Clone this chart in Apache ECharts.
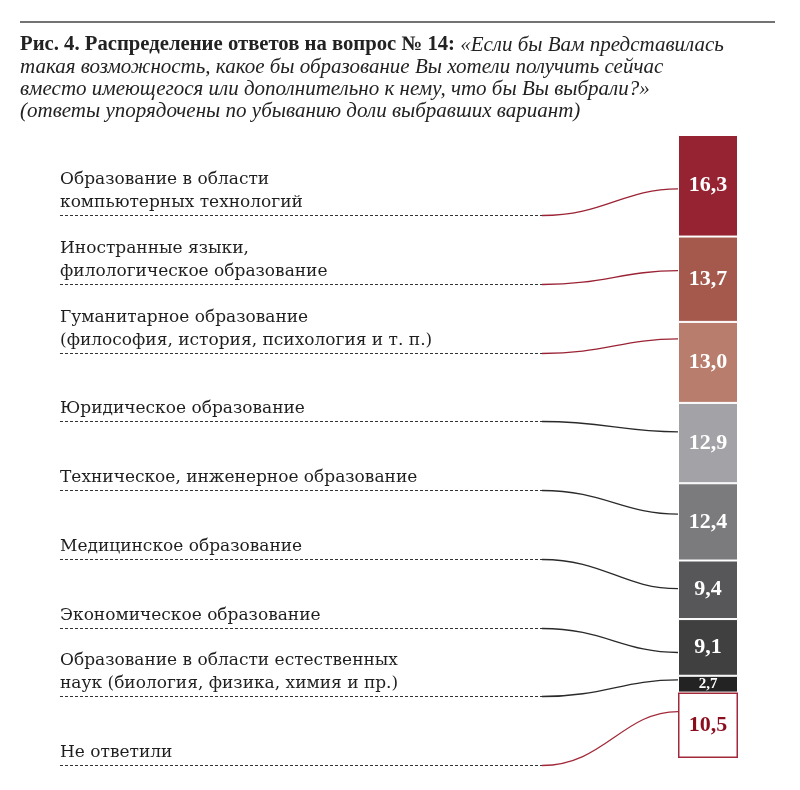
<!DOCTYPE html>
<html><head><meta charset="utf-8">
<script src="https://cdn.jsdelivr.net/npm/echarts@6.0.0/dist/echarts.min.js"></script>
<style>html,body{margin:0;padding:0;background:#fff}#c{width:800px;height:790px}</style>
</head><body><div id="c"></div>
<script>
// ---- data ----
const categories = [
  'Образование в области\nкомпьютерных технологий',
  'Иностранные языки,\nфилологическое образование',
  'Гуманитарное образование\n(философия, история, психология и т. п.)',
  'Юридическое образование',
  'Техническое, инженерное образование',
  'Медицинское образование',
  'Экономическое образование',
  'Образование в области естественных\nнаук (биология, физика, химия и пр.)',
  'Не ответили'
];
const values = [16.3, 13.7, 13.0, 12.9, 12.4, 9.4, 9.1, 2.7, 10.5];
const titleBold = 'Рис. 4. Распределение ответов на вопрос № 14: ';
const titleItalic = [
  '«Если бы Вам представилась',
  'такая возможность, какое бы образование Вы хотели получить сейчас',
  'вместо имеющегося или дополнительно к нему, что бы Вы выбрали?»',
  '(ответы упорядочены по убыванию доли выбравших вариант)'
];

// ---- styles ----
const colors = ['#962332', '#a5594d', '#b87d6c', '#a3a3a7', '#7b7b7e', '#57575a', '#404040', '#232323', '#ffffff'];
const connectorColors = ['#9b2335', '#9b2335', '#9b2335', '#2a2a2a', '#2a2a2a', '#2a2a2a', '#2a2a2a', '#2a2a2a', '#a3293a'];
const anchorFractions = [0.53, 0.4, 0.21, 0.36, 0.4, 0.48, 0.59, 0.24, 0.29];

const chart = echarts.init(document.getElementById('c'), null, {renderer: 'canvas'});

const series = values.map((v, i) => {
  const last = i === values.length - 1;
  return {
    type: 'bar',
    stack: 'total',
    barWidth: 60,
    data: [v],
    itemStyle: last
      ? {color: '#ffffff', borderColor: '#a3293a', borderWidth: 1.5}
      : {color: colors[i], borderColor: '#ffffff', borderWidth: 1},
    label: {
      show: true,
      position: 'inside',
      formatter: () => v.toFixed(1).replace('.', ','),
      fontFamily: '"Liberation Serif", serif',
      fontWeight: 'bold',
      fontSize: v < 5 ? 15 : 22,
      color: last ? '#8b0e1e' : '#ffffff'
    },
    emphasis: {disabled: true},
    silent: true
  };
});

chart.setOption({
  animation: false,
  grid: {left: 678, right: 62, top: 135, bottom: 32},
  xAxis: {type: 'category', data: ['all'], show: false},
  yAxis: {type: 'value', inverse: true, min: 0, max: 100, show: false},
  series: series
});

// ---- annotations ----
const graphics = [];
graphics.push({
  type: 'line', shape: {x1: 20, y1: 22, x2: 775, y2: 22},
  style: {stroke: '#444', lineWidth: 1.5}
});
const titleText = '{b|' + titleBold + '}{i|' + titleItalic[0] + '}\n' +
  titleItalic.slice(1).map(t => '{i|' + t + '}').join('\n');
graphics.push({
  type: 'text', x: 20, y: 34,
  style: {
    text: titleText,
    fill: '#222',
    rich: {
      b: {fontFamily: '"Liberation Serif", serif', fontWeight: 'bold', fontSize: 20.7, lineHeight: 22, fill: '#222'},
      i: {fontFamily: '"Liberation Serif", serif', fontStyle: 'italic', fontSize: 21, lineHeight: 22, fill: '#222'}
    }
  }
});

const lineStartX = 60, lineEndX = 542, barLeft = 678;
let cum = 0;
categories.forEach((cat, i) => {
  const lineY = Math.round(215 + i * 68.75) + 0.5;
  const endVal = cum + anchorFractions[i] * values[i];
  cum += values[i];
  const endY = chart.convertToPixel({yAxisIndex: 0}, endVal);
  graphics.push({
    type: 'text', x: lineStartX, y: lineY - 1,
    style: {
      text: cat, fontFamily: '"DejaVu Serif", serif', fontSize: 17,
      lineHeight: 23, fill: '#1e1e1e', verticalAlign: 'bottom', align: 'left'
    }
  });
  graphics.push({
    type: 'line', shape: {x1: lineStartX, y1: lineY, x2: lineEndX, y2: lineY},
    style: {stroke: '#333', lineWidth: 1, lineDash: [3, 2]}
  });
  graphics.push({
    type: 'bezierCurve',
    shape: {x1: lineEndX, y1: lineY, cpx1: lineEndX + 62, cpy1: lineY, cpx2: barLeft - 55, cpy2: endY, x2: barLeft, y2: endY},
    style: {stroke: connectorColors[i], lineWidth: 1.3, fill: null}
  });
});
chart.setOption({graphic: graphics});
</script>
</body></html>
